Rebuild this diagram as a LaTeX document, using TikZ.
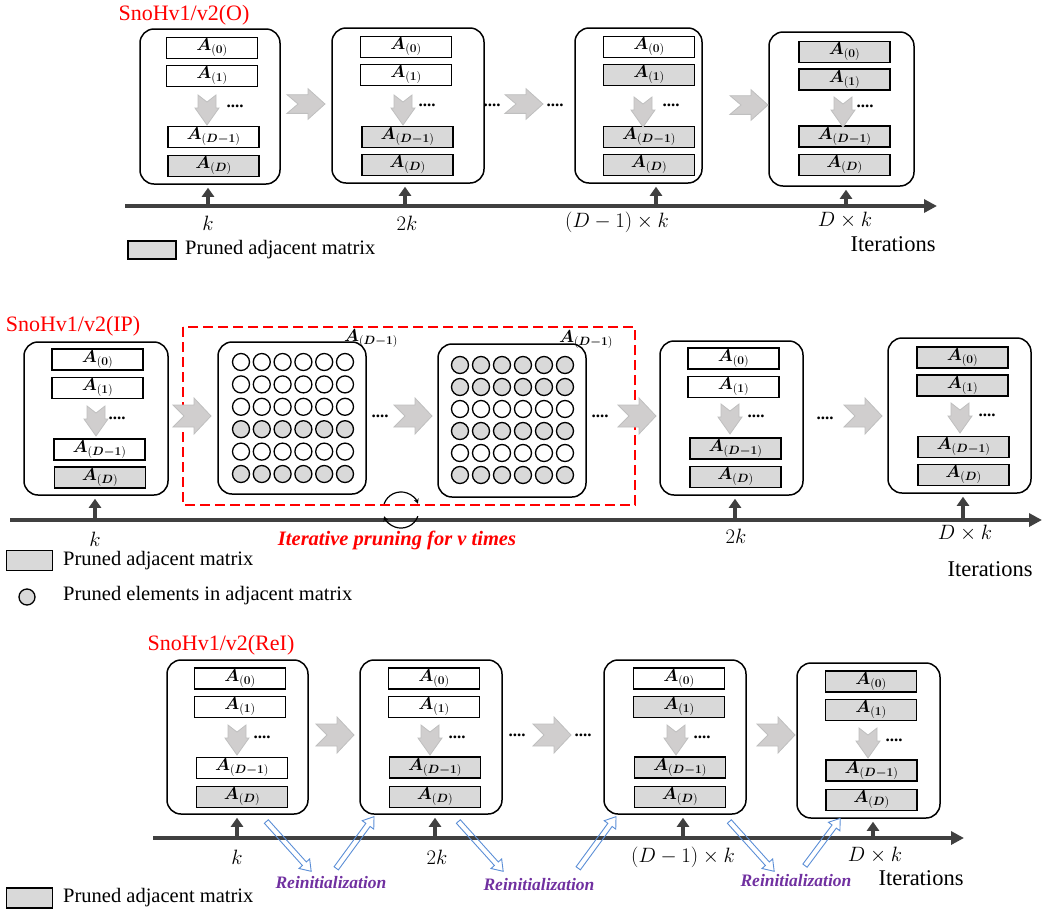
\documentclass[tikz,border=0pt]{standalone}
\usepackage{fontspec}
\setmainfont{Liberation Serif}
\usepackage{amsmath}
\usepackage{bm}
\usetikzlibrary{arrows.meta,shapes.arrows,calc}
\definecolor{cgray}{HTML}{D9D9D9}
\definecolor{chevfill}{HTML}{D0CECE}
\definecolor{chevdraw}{HTML}{BFBFBF}
\definecolor{axgray}{HTML}{404040}
\definecolor{reiblue}{HTML}{5B8ED6}
\definecolor{reipurple}{HTML}{7030A0}
\newcommand\labA[1]{$\bm{A}_{(\bm{#1})}$}
\newcommand\fsz[1]{\fontsize{#1}{#1}\selectfont}
\tikzset{
 pics/chev/.style={code={\filldraw[fill=chevfill,draw=chevdraw,line width=0.8pt] (0,-11)--(21,-11)--(21,-18)--(38,0)--(21,18)--(21,11)--(0,11)--(11,0)--cycle;}},
 pics/darrow/.style={code={\filldraw[fill=chevfill,draw=chevdraw,line width=0.8pt] (-9,0)--(0,7)--(9,0)--(9,13)--(12,13)--(0,30)--(-12,13)--(-9,13)--cycle;}},
 bigbox/.style={draw, line width=1.5pt, rounded corners=14pt, inner sep=0pt},
 barbox/.style={draw, line width=1.7pt, minimum width=91pt, minimum height=21pt, inner sep=0pt, font=\fsz{18.5}},
 dotc/.style={circle, draw, line width=1.3pt, minimum size=17pt, inner sep=0pt},
 axisl/.style={line width=4pt, draw=axgray, -{Triangle[length=13pt,width=13pt]}},
 tickarr/.style={line width=3.5pt, draw=axgray, -{Triangle[length=9pt,width=12pt]}, shorten >=3pt},
 dotsl/.style={font=\fsz{17}\bfseries, inner sep=0pt},
 mlab/.style={font=\fsz{22}, inner sep=0pt},
 mlabw/.style={font=\fsz{21}, inner sep=0pt},
 ttl/.style={text=red, font=\fsz{22}, inner sep=0pt},
 legt/.style={font=\fsz{20.5}, anchor=west, inner sep=0pt},
 iter/.style={font=\fsz{22.5}, inner sep=0pt},
 reit/.style={text=reipurple, font=\fsz{17.5}\bfseries\itshape, inner sep=0pt},
 reiarr/.style={single arrow, draw=reiblue, line width=0.9pt, inner sep=2.2pt, single arrow head extend=4.5pt, single arrow tip angle=70},
 legbox/.style={draw, line width=1.2pt, fill=cgray, minimum width=46pt, minimum height=20pt, inner sep=0pt},
 gridlab/.style={font=\fsz{18.5}, inner sep=0pt},
}
\begin{document}
\begin{tikzpicture}[x=1pt,y=-1pt]
\useasboundingbox (0,0) rectangle (1042,911);

% ================= TOP PANEL =================
\node[ttl] (tt) at (184,15) {SnoHv1/v2(O)};
\node[bigbox, minimum width=140pt, minimum height=155pt] (t1) at (210,106.5) {};
\node[bigbox, minimum width=152pt, minimum height=155pt] (t2) at (408,105.5) {};
\node[bigbox, minimum width=127pt, minimum height=155pt] (t3) at (638.5,105.5) {};
\node[bigbox, minimum width=145pt, minimum height=154pt] (t4) at (841.5,109) {};

\node[barbox, fill=white] (t1a0) at (212,48) {\labA{0}};
\node[barbox, fill=white] (t1a1) at (212,76) {\labA{1}};
\node[barbox, fill=white] (t1am) at (213.5,137) {\labA{D-1}};
\node[barbox, fill=cgray] (t1ad) at (213.5,166) {\labA{D}};
\pic at (207,95) {darrow};
\node[dotsl] (t1d) at (235,106) {....};

\node[barbox, fill=white] (t2a0) at (406,47) {\labA{0}};
\node[barbox, fill=white] (t2a1) at (406,75) {\labA{1}};
\node[barbox, fill=cgray] (t2am) at (407.5,137) {\labA{D-1}};
\node[barbox, fill=cgray] (t2ad) at (407.5,165) {\labA{D}};
\pic at (403,95) {darrow};
\node[dotsl] (t2d) at (427,105) {....};

\node[barbox, fill=white] (t3a0) at (649,47) {\labA{0}};
\node[barbox, fill=cgray] (t3a1) at (649,75) {\labA{1}};
\node[barbox, fill=cgray] (t3am) at (649,137) {\labA{D-1}};
\node[barbox, fill=cgray] (t3ad) at (649,165) {\labA{D}};
\pic at (643,97) {darrow};
\node[dotsl] (t3d) at (671,105) {....};

\node[barbox, fill=cgray] (t4a0) at (844.5,52) {\labA{0}};
\node[barbox, fill=cgray] (t4a1) at (844.5,79.5) {\labA{1}};
\node[barbox, fill=cgray] (t4am) at (844.5,136.5) {\labA{D-1}};
\node[barbox, fill=cgray] (t4ad) at (844.5,165) {\labA{D}};
\pic at (843,97) {darrow};
\node[dotsl] (t4d) at (865,106) {....};

\pic[yscale=0.85] at (287,104) {chev};
\node[dotsl] (tb1) at (492,105) {....};
\pic[yscale=0.85] at (505,104) {chev};
\node[dotsl] (tb2) at (555,105) {....};
\pic[yscale=0.85] at (730,105) {chev};

\coordinate (axT0) at (125,206);
\coordinate (axT1) at (937,206);
\draw[axisl] (axT0) -- (axT1);
\coordinate (tk1) at (208,206);
\coordinate (tk2) at (405,206);
\coordinate (tk3) at (656,206);
\coordinate (tk4) at (846,206);
\draw[tickarr] (tk1) -- (tk1 |- t1.south);
\draw[tickarr] (tk2) -- (tk2 |- t2.south);
\draw[tickarr] (tk3) -- (tk3 |- t3.south);
\draw[tickarr] (tk4) -- (tk4 |- t4.south);
\node[mlab] (tl1) at (208,223) {$k$};
\node[mlab] (tl2) at (407,223) {$2k$};
\node[mlabw] (tl3) at (617,222) {$(D-1)\times k$};
\node[mlab] (tl4) at (845,220) {$D\times k$};
\node[iter] (titer) at (893,244) {Iterations};
\node[legbox, minimum width=48pt, minimum height=18pt] (tlg) at (152,250) {};
\node[legt] (tlgt) at (185,250) {Pruned adjacent matrix};

% ================= MIDDLE PANEL =================
\node[ttl] (mt) at (73,326) {SnoHv1/v2(IP)};
\draw[red, line width=1.5pt, dash pattern=on 10pt off 5pt] (183,327) rectangle (635,505);

\node[bigbox, minimum width=144pt, minimum height=153pt] (m1) at (96,418.5) {};
\node[barbox, fill=white] (m1a0) at (97.5,359.5) {\labA{0}};
\node[barbox, fill=white] (m1a1) at (97.5,388) {\labA{1}};
\node[barbox, fill=white] (m1am) at (99.5,449.5) {\labA{D-1}};
\node[barbox, fill=cgray] (m1ad) at (100,477.5) {\labA{D}};
\pic at (96,406) {darrow};
\node[dotsl] (m1d) at (117,418) {....};

\node[bigbox, minimum width=148pt, minimum height=152pt] (g1) at (292,418) {};
\foreach \j/\f in {0/white,1/white,2/white,3/cgray,4/white,5/cgray}{
  \foreach \i in {0,...,5}{
    \node[dotc, fill=\f] (g1c\i\j) at ({241+20.8*\i},{362+22.4*\j}) {};
  }
}
\node[gridlab] (g1l) at (371,339) {\labA{D-1}};

\node[bigbox, minimum width=148pt, minimum height=153pt] (g2) at (512,420.5) {};
\foreach \j/\f in {0/cgray,1/cgray,2/white,3/cgray,4/white,5/cgray}{
  \foreach \i in {0,...,5}{
    \node[dotc, fill=\f] (g2c\i\j) at ({460+21*\i},{365+22*\j}) {};
  }
}
\node[gridlab] (g2l) at (586,340) {\labA{D-1}};

\node[bigbox, minimum width=143pt, minimum height=154pt] (m2) at (731.5,418) {};
\node[barbox, fill=white] (m2a0) at (733.5,358.5) {\labA{0}};
\node[barbox, fill=white] (m2a1) at (733.5,387) {\labA{1}};
\node[barbox, fill=cgray] (m2am) at (735.5,448.5) {\labA{D-1}};
\node[barbox, fill=cgray] (m2ad) at (735.5,477) {\labA{D}};
\pic at (730,404) {darrow};
\node[dotsl] (m2d) at (756,416) {....};

\node[bigbox, minimum width=143pt, minimum height=155pt] (m3) at (959.5,415.5) {};
\node[barbox, fill=cgray] (m3a0) at (962.5,357.5) {\labA{0}};
\node[barbox, fill=cgray] (m3a1) at (962.5,385.5) {\labA{1}};
\node[barbox, fill=cgray] (m3am) at (963.5,447) {\labA{D-1}};
\node[barbox, fill=cgray] (m3ad) at (963.5,475) {\labA{D}};
\pic at (960,403) {darrow};
\node[dotsl] (m3d) at (987,415) {....};

\pic at (173,416) {chev};
\node[dotsl] (mb1) at (380,416) {....};
\pic at (394,416) {chev};
\node[dotsl] (mb2) at (600,416) {....};
\pic at (618,416) {chev};
\node[dotsl] (mb3) at (825,418) {....};
\pic at (844,416) {chev};

\coordinate (axM0) at (10,520);
\coordinate (axM1) at (1042,520);
\draw[axisl] (axM0) -- (axM1);
\coordinate (mk1) at (95,520);
\coordinate (mk2) at (735,520);
\coordinate (mk3) at (963,520);
\draw[tickarr] (mk1) -- (mk1 |- m1.south);
\draw[tickarr] (mk2) -- (mk2 |- m2.south);
\draw[tickarr] (mk3) -- (mk3 |- m3.south);
\node[mlab] (ml1) at (95,539) {$k$};
\node[mlab] (ml2) at (736,536) {$2k$};
\node[mlab] (ml3) at (965,533) {$D\times k$};
\node[iter] (miter) at (990,569) {Iterations};

\coordinate (rc) at (401,510);
\draw[line width=1.2pt, -{Stealth[length=5pt,width=5pt]}] (384.1,503.8) arc[start angle=200, end angle=340, radius=18];
\draw[line width=1.2pt, -{Stealth[length=5pt,width=5pt]}] (417.9,516.2) arc[start angle=20, end angle=160, radius=18];
\node[text=red, font=\fsz{20.5}\bfseries\itshape, inner sep=0pt] (ipl) at (397,540) {Iterative pruning for v times};

\node[legbox] (mlg) at (29.5,560.5) {};
\node[legt] (mlgt) at (63,561) {Pruned adjacent matrix};
\node[dotc, fill=cgray, minimum size=16pt] (mlc) at (27,597) {};
\node[legt] (mlct) at (63,596) {Pruned elements in adjacent matrix};

% ================= BOTTOM PANEL =================
\node[ttl] (bt) at (221,645) {SnoHv1/v2(ReI)};
\node[bigbox, minimum width=141pt, minimum height=154pt] (b1) at (237.5,737) {};
\node[barbox, fill=white] (b1a0) at (240,678.5) {\labA{0}};
\node[barbox, fill=white] (b1a1) at (240,707) {\labA{1}};
\node[barbox, fill=white] (b1am) at (242,768) {\labA{D-1}};
\node[barbox, fill=cgray] (b1ad) at (242,797) {\labA{D}};
\pic at (237,725) {darrow};
\node[dotsl] (b1d) at (262,737) {....};

\node[bigbox, minimum width=142pt, minimum height=154pt] (b2) at (431,737) {};
\node[barbox, fill=white] (b2a0) at (434,678.5) {\labA{0}};
\node[barbox, fill=white] (b2a1) at (434,707) {\labA{1}};
\node[barbox, fill=cgray] (b2am) at (435,767.5) {\labA{D-1}};
\node[barbox, fill=cgray] (b2ad) at (435,797) {\labA{D}};
\pic at (430,725) {darrow};
\node[dotsl] (b2d) at (457,737) {....};

\node[bigbox, minimum width=142pt, minimum height=154pt] (b3) at (675,737) {};
\node[barbox, fill=white] (b3a0) at (679,678.5) {\labA{0}};
\node[barbox, fill=cgray] (b3a1) at (679,707) {\labA{1}};
\node[barbox, fill=cgray] (b3am) at (680,767.5) {\labA{D-1}};
\node[barbox, fill=cgray] (b3ad) at (680,797) {\labA{D}};
\pic at (676,725) {darrow};
\node[dotsl] (b3d) at (702,737) {....};

\node[bigbox, minimum width=143pt, minimum height=155pt] (b4) at (868.5,740.5) {};
\node[barbox, fill=cgray] (b4a0) at (871,681.5) {\labA{0}};
\node[barbox, fill=cgray] (b4a1) at (871,710) {\labA{1}};
\node[barbox, fill=cgray] (b4am) at (871.5,770.5) {\labA{D-1}};
\node[barbox, fill=cgray] (b4ad) at (871.5,800) {\labA{D}};
\pic at (868,728) {darrow};
\node[dotsl] (b4d) at (894,740) {....};

\pic at (316,735) {chev};
\node[dotsl] (bb1) at (517,735) {....};
\pic at (533,735) {chev};
\node[dotsl] (bb2) at (583,735) {....};
\pic at (757,735) {chev};

\coordinate (axB0) at (153,838);
\coordinate (axB1) at (964,838);
\draw[axisl] (axB0) -- (axB1);
\coordinate (bk1) at (237,838);
\coordinate (bk2) at (435,838);
\coordinate (bk3) at (683,838);
\coordinate (bk4) at (873,838);
\draw[tickarr] (bk1) -- (bk1 |- b1.south);
\draw[tickarr] (bk2) -- (bk2 |- b2.south);
\draw[tickarr] (bk3) -- (bk3 |- b3.south);
\draw[tickarr] (bk4) -- (bk4 |- b4.south);
\node[mlab] (bl1) at (237,857) {$k$};
\node[mlab] (bl2) at (437,857) {$2k$};
\node[mlabw] (bl3) at (683,857) {$(D-1)\times k$};
\node[mlab] (bl4) at (875,855) {$D\times k$};
\node[iter] (biter) at (921,878) {Iterations};

\node[reiarr, minimum height=67pt, rotate=-48] (ra1) at (287.5,845) {};
\node[reiarr, minimum height=64pt, rotate=53.8] (ra2) at (354,844) {};
\node[reiarr, minimum height=67pt, rotate=-48] (ra3) at (479.5,845) {};
\node[reiarr, minimum height=64pt, rotate=53.8] (ra4) at (596,844) {};
\node[reiarr, minimum height=67pt, rotate=-48] (ra5) at (750.5,845) {};
\node[reiarr, minimum height=59pt, rotate=53.3] (ra6) at (821.5,843.5) {};
\node[reit] (rl1) at (331,883) {Reinitialization};
\node[reit] (rl2) at (539,885) {Reinitialization};
\node[reit] (rl3) at (796,881) {Reinitialization};

\node[legbox] (blg) at (29.5,898) {};
\node[legt] (blgt) at (63,898) {Pruned adjacent matrix};
\end{tikzpicture}
\end{document}
